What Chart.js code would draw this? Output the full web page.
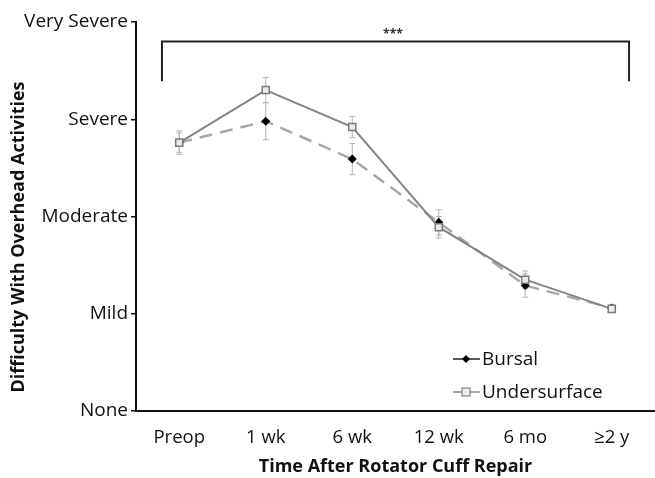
<!DOCTYPE html>
<html>
<head>
<meta charset="utf-8">
<script src="https://cdn.jsdelivr.net/npm/chart.js@4.4.1/dist/chart.umd.min.js"></script>
<style>
html,body{margin:0;padding:0;background:#fff;}
#wrap{width:655px;height:478px;position:relative;}
</style>
</head>
<body>
<div id="wrap"><canvas id="c" width="655" height="478"></canvas></div>
<script>
const categories = ['Preop', '1 wk', '6 wk', '12 wk', '6 mo', '\u22652 y'];
const yTickLabels = ['None', 'Mild', 'Moderate', 'Severe', 'Very Severe'];
const bursal = [2.76, 2.98, 2.59, 1.94, 1.29, 1.06];
const bursalErr = [0.12, 0.19, 0.16, 0.13, 0.12, 0.03];
const undersurface = [2.76, 3.30, 2.92, 1.89, 1.35, 1.05];
const undersurfaceErr = [0.10, 0.13, 0.11, 0.11, 0.09, 0.03];
const bracketX = [-0.2, 5.2];
const bracketY = [3.39, 3.80];
const sigLabel = '***';

const FONT = 'Open Sans';

const errorBars = {
  id: 'errorBars',
  beforeDatasetsDraw(chart) {
    const ctx = chart.ctx;
    const xs = chart.scales.x, ys = chart.scales.y;
    const sets = [[bursal, bursalErr], [undersurface, undersurfaceErr]];
    ctx.save();
    ctx.strokeStyle = '#b5b5b5';
    ctx.lineWidth = 1;
    sets.forEach(([vals, errs]) => {
      vals.forEach((v, i) => {
        const x = xs.getPixelForValue(i);
        const y1 = ys.getPixelForValue(v - errs[i]);
        const y2 = ys.getPixelForValue(v + errs[i]);
        ctx.beginPath();
        ctx.moveTo(x, y1); ctx.lineTo(x, y2);
        ctx.moveTo(x - 3, y1); ctx.lineTo(x + 3, y1);
        ctx.moveTo(x - 3, y2); ctx.lineTo(x + 3, y2);
        ctx.stroke();
      });
    });
    ctx.restore();
  }
};

const extras = {
  id: 'extras',
  afterDraw(chart) {
    const ctx = chart.ctx;
    const xs = chart.scales.x, ys = chart.scales.y;
    ctx.save();
    // bracket
    const xl = xs.getPixelForValue(bracketX[0]);
    const xr = xs.getPixelForValue(bracketX[1]);
    const yb = ys.getPixelForValue(bracketY[0]);
    const yt = ys.getPixelForValue(bracketY[1]);
    ctx.strokeStyle = '#222';
    ctx.lineWidth = 2;
    ctx.beginPath();
    ctx.moveTo(xl, yb); ctx.lineTo(xl, yt); ctx.lineTo(xr, yt); ctx.lineTo(xr, yb);
    ctx.stroke();
    ctx.fillStyle = '#333';
    ctx.font = 'bold 12px ' + FONT;
    ctx.textAlign = 'center';
    ctx.textBaseline = 'bottom';
    ctx.fillText(sigLabel, xs.getPixelForValue(2.47), yt - 1);

    // y axis title
    ctx.save();
    ctx.translate(19, 237);
    ctx.rotate(-Math.PI / 2);
    ctx.font = 'bold 18px ' + FONT;
    ctx.fillStyle = '#111';
    ctx.textAlign = 'center';
    ctx.textBaseline = 'middle';
    ctx.fillText('Difficulty With Overhead Activities', 0, 0);
    ctx.restore();

    // legend
    const lx = 453, items = [
      {label: 'Bursal', y: 359, color: '#222', style: 'diamond'},
      {label: 'Undersurface', y: 392, color: '#888', style: 'square'}
    ];
    ctx.font = '19px ' + FONT;
    ctx.textAlign = 'left';
    ctx.textBaseline = 'middle';
    items.forEach(it => {
      ctx.strokeStyle = it.color;
      ctx.lineWidth = 1.5;
      ctx.beginPath(); ctx.moveTo(lx, it.y); ctx.lineTo(lx + 27, it.y); ctx.stroke();
      const cx = lx + 13;
      if (it.style === 'diamond') {
        ctx.fillStyle = '#000';
        ctx.beginPath();
        ctx.moveTo(cx, it.y - 4); ctx.lineTo(cx + 4, it.y); ctx.lineTo(cx, it.y + 4); ctx.lineTo(cx - 4, it.y);
        ctx.closePath(); ctx.fill();
      } else {
        ctx.fillStyle = '#ececec';
        ctx.fillRect(cx - 4, it.y - 4, 8, 8);
        ctx.strokeStyle = '#888';
        ctx.lineWidth = 1.2;
        ctx.strokeRect(cx - 4, it.y - 4, 8, 8);
      }
      ctx.fillStyle = '#111';
      ctx.fillText(it.label, lx + 29, it.y + 1);
    });
    ctx.restore();
  }
};

new Chart(document.getElementById('c'), {
  type: 'line',
  data: {
    labels: categories,
    datasets: [
      {
        label: 'Undersurface',
        data: undersurface,
        borderColor: '#858585',
        borderWidth: 2,
        pointStyle: 'rect',
        pointRadius: 5,
        pointBackgroundColor: '#ececec',
        pointBorderColor: '#7a7a7a',
        pointBorderWidth: 1.5,
        tension: 0,
        order: 1
      },
      {
        label: 'Bursal',
        data: bursal,
        borderColor: '#a8a8a8',
        borderWidth: 2.5,
        borderDash: [13, 8],
        pointStyle: 'rectRot',
        pointRadius: 4.5,
        pointBackgroundColor: '#000',
        pointBorderColor: '#000',
        pointBorderWidth: 0,
        tension: 0,
        order: 2
      }
    ]
  },
  options: {
    responsive: false,
    animation: false,
    devicePixelRatio: 1,
    layout: {autoPadding: false, padding: {top: 22, right: 0, left: 0, bottom: 0}},
    plugins: {legend: {display: false}, tooltip: {enabled: false}},
    scales: {
      x: {
        offset: true,
        grid: {display: false},
        border: {display: true, color: '#111', width: 2},
        ticks: {color: '#111', font: {family: FONT, size: 18.5}, padding: 8, maxRotation: 0},
        title: {display: true, text: 'Time After Rotator Cuff Repair', color: '#111', font: {family: FONT, size: 18, weight: 'bold'}, padding: {top: 8, bottom: 0}},
        afterFit(s) { s.height = 67; }
      },
      y: {
        min: 0, max: 4,
        grid: {drawOnChartArea: false, drawTicks: true, tickLength: 5, color: '#111', lineWidth: 1.5},
        border: {display: true, color: '#111', width: 2},
        ticks: {stepSize: 1, color: '#111', font: {family: FONT, size: 19}, padding: 3,
          callback: (v) => yTickLabels[v]},
        afterFit(s) { s.width = 136; }
      }
    }
  },
  plugins: [errorBars, extras]
});
</script>
</body>
</html>
